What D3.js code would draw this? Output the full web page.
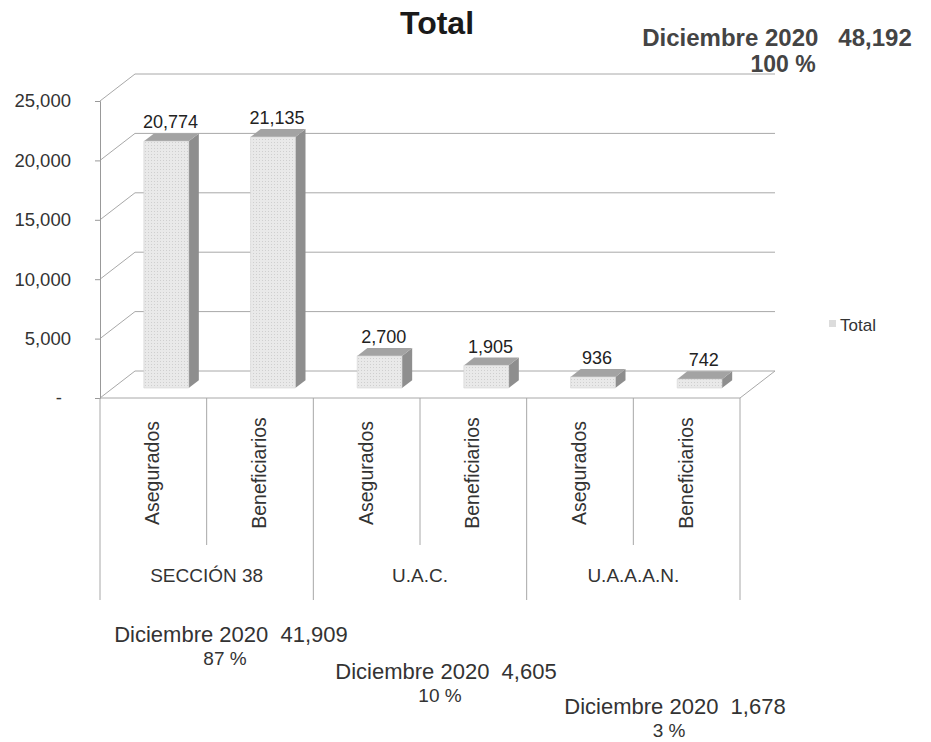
<!DOCTYPE html>
<html>
<head>
<meta charset="utf-8">
<script src="https://cdn.jsdelivr.net/npm/d3@7"></script>
<style>
  body { margin: 0; background: #fff; }
  svg { display: block; font-family: "Liberation Sans", Arial, sans-serif; }
</style>
</head>
<body>
<svg id="chart"></svg>
<script>

const width = 931;
const height = 742;

// data
const groups = ["SECCIÓN 38", "U.A.C.", "U.A.A.A.N."];
const items = ["Asegurados", "Beneficiarios"];
const values = [20774, 21135, 2700, 1905, 936, 742];
const yTicks = [0, 5000, 10000, 15000, 20000, 25000];

const totalLine1 = "Diciembre 2020   48,192";
const totalLine2 = "100 %";
const groupTotals = ["41,909", "4,605", "1,678"];
const groupShares = ["87 %", "10 %", "3 %"];

// one row per bar
const rows = [];
groups.forEach((g, gi) => {
    items.forEach((it, ii) => {
        rows.push({ key: g + "|" + it, group: g, item: it, value: values[gi * items.length + ii] });
    });
});

const left = 100, right = 740;
const floorY = 398, topY = 101;
const depthX = 35, depthY = 27;
const barZ0 = 0.37, barZ1 = 0.66;

const svg = d3.select("#chart")
              .attr("width", width)
              .attr("height", height);

// stippled fill like the scanned bars
const defs = svg.append("defs");
const pat = defs.append("pattern")
                .attr("id", "stipple")
                .attr("width", 3).attr("height", 3)
                .attr("patternUnits", "userSpaceOnUse");
pat.append("rect").attr("width", 3).attr("height", 3).attr("fill", "#e9e9e9");
pat.append("rect").attr("x", 1).attr("y", 1).attr("width", 1).attr("height", 1).attr("fill", "#cfcfcf");

const xScale = d3.scaleBand()
                 .domain(rows.map(d => d.key))
                 .range([left, right])
                 .paddingInner(0.58)
                 .paddingOuter(0.29);

const xCat = d3.scaleBand()
               .domain(rows.map(d => d.key))
               .range([left, right]);

const xGroup = d3.scaleBand()
                 .domain(groups)
                 .range([left, right]);

const yScale = d3.scaleLinear()
                 .domain([0, 25000])
                 .range([floorY, topY]);

// project a point (x on front plane, value, depth 0..1)
const proj = (x, v, z) => [x + depthX * z, yScale(v) - depthY * z];

const gridColor = "#a8a8a8";

// back wall gridlines + left wall diagonals
const grid = svg.append("g").attr("class", "grid");
yTicks.forEach(t => {
    const [bx0, by] = proj(left, t, 1);
    const [bx1] = proj(right, t, 1);
    grid.append("line")
        .attr("x1", bx0).attr("x2", bx1)
        .attr("y1", by).attr("y2", by)
        .attr("stroke", gridColor);
    grid.append("line")
        .attr("x1", left).attr("y1", yScale(t))
        .attr("x2", bx0).attr("y2", by)
        .attr("stroke", gridColor);
});

// floor front edge and right side
grid.append("line")
    .attr("x1", left).attr("x2", right)
    .attr("y1", floorY).attr("y2", floorY)
    .attr("stroke", gridColor);
grid.append("line")
    .attr("x1", right).attr("y1", floorY)
    .attr("x2", proj(right, 0, 1)[0]).attr("y2", proj(right, 0, 1)[1])
    .attr("stroke", gridColor);

// y axis
const yAxis = d3.axisLeft(yScale)
                .tickValues(yTicks)
                .tickSize(5)
                .tickPadding(24)
                .tickFormat(d => d === 0 ? "-" : d3.format(",")(d));

const yAxisG = svg.append("g")
                  .attr("transform", `translate(${left}, 0)`)
                  .call(yAxis);
yAxisG.select(".domain").attr("stroke", "#999");
yAxisG.selectAll(".tick line").attr("stroke", "#999");
yAxisG.selectAll(".tick text")
      .attr("font-size", 18.5)
      .attr("fill", "#333")
      .attr("font-family", "Liberation Sans, Arial, sans-serif")
      .filter(d => d === 0)
      .attr("dx", -9);

// bars
const bars = svg.append("g").attr("class", "bars");
const pts = arr => arr.map(p => p.join(",")).join(" ");

rows.forEach(d => {
    const x0 = xScale(d.key), x1 = x0 + xScale.bandwidth();
    const g = bars.append("g");
    g.append("polygon")
     .attr("points", pts([proj(x1, 0, barZ0), proj(x1, 0, barZ1), proj(x1, d.value, barZ1), proj(x1, d.value, barZ0)]))
     .attr("fill", "#8e8e8e");
    g.append("polygon")
     .attr("points", pts([proj(x0, d.value, barZ0), proj(x1, d.value, barZ0), proj(x1, d.value, barZ1), proj(x0, d.value, barZ1)]))
     .attr("fill", "#a3a3a3");
    g.append("polygon")
     .attr("points", pts([proj(x0, 0, barZ0), proj(x1, 0, barZ0), proj(x1, d.value, barZ0), proj(x0, d.value, barZ0)]))
     .attr("fill", "url(#stipple)")
     .attr("stroke", "#d4d4d4")
     .attr("stroke-width", 0.6);
    const [lx, ly] = proj((x0 + x1) / 2, d.value, barZ1);
    g.append("text")
     .attr("x", lx - 6)
     .attr("y", ly - 5)
     .attr("text-anchor", "middle")
     .attr("font-size", 18)
     .attr("fill", "#222")
     .text(d3.format(",")(d.value));
});

// category axis: separators and labels
const cat = svg.append("g").attr("class", "categories");
rows.forEach((d, i) => {
    const cx = xCat(d.key) + xCat.bandwidth() / 2;
    cat.append("text")
       .attr("transform", `translate(${cx + 6}, 473) rotate(-90)`)
       .attr("text-anchor", "middle")
       .attr("font-size", 19.5)
       .attr("fill", "#333")
       .text(d.item);
    if (i % items.length !== 0) {
        cat.append("line")
           .attr("x1", xCat(d.key)).attr("x2", xCat(d.key))
           .attr("y1", floorY).attr("y2", 545)
           .attr("stroke", gridColor);
    }
});

groups.forEach(g => {
    cat.append("line")
       .attr("x1", xGroup(g)).attr("x2", xGroup(g))
       .attr("y1", floorY).attr("y2", 600)
       .attr("stroke", gridColor);
    cat.append("text")
       .attr("x", xGroup(g) + xGroup.bandwidth() / 2)
       .attr("y", 582)
       .attr("text-anchor", "middle")
       .attr("font-size", 19)
       .attr("fill", "#333")
       .text(g);
});
cat.append("line")
   .attr("x1", right).attr("x2", right)
   .attr("y1", floorY).attr("y2", 600)
   .attr("stroke", gridColor);

// title
svg.append("text")
   .attr("x", 437)
   .attr("y", 34)
   .attr("text-anchor", "middle")
   .attr("font-size", 32)
   .attr("font-weight", "bold")
   .attr("fill", "#1a1a1a")
   .text("Total");

// legend
svg.append("rect")
   .attr("x", 829).attr("y", 320)
   .attr("width", 7).attr("height", 7)
   .attr("fill", "#dcdcdc");
svg.append("text")
   .attr("x", 840).attr("y", 331)
   .attr("font-size", 17)
   .attr("fill", "#333")
   .text("Total");

// total annotation, top right
svg.append("text")
   .attr("x", 777).attr("y", 46)
   .attr("text-anchor", "middle")
   .attr("font-size", 24)
   .attr("font-weight", "bold")
   .attr("fill", "#444")
   .attr("xml:space", "preserve")
   .text(totalLine1);
svg.append("text")
   .attr("x", 783).attr("y", 72)
   .attr("text-anchor", "middle")
   .attr("font-size", 23)
   .attr("font-weight", "bold")
   .attr("fill", "#444")
   .text(totalLine2);

// group annotations below the chart
const noteX = [231, 446, 675];
const noteY = [642, 679, 714];
groups.forEach((g, i) => {
    svg.append("text")
       .attr("x", noteX[i]).attr("y", noteY[i])
       .attr("text-anchor", "middle")
       .attr("font-size", 22)
       .attr("fill", "#333")
       .attr("xml:space", "preserve")
       .text("Diciembre 2020  " + groupTotals[i]);
    svg.append("text")
       .attr("x", noteX[i] - 6).attr("y", noteY[i] + 23)
       .attr("text-anchor", "middle")
       .attr("font-size", 19)
       .attr("fill", "#333")
       .text(groupShares[i]);
});

</script>
</body>
</html>
